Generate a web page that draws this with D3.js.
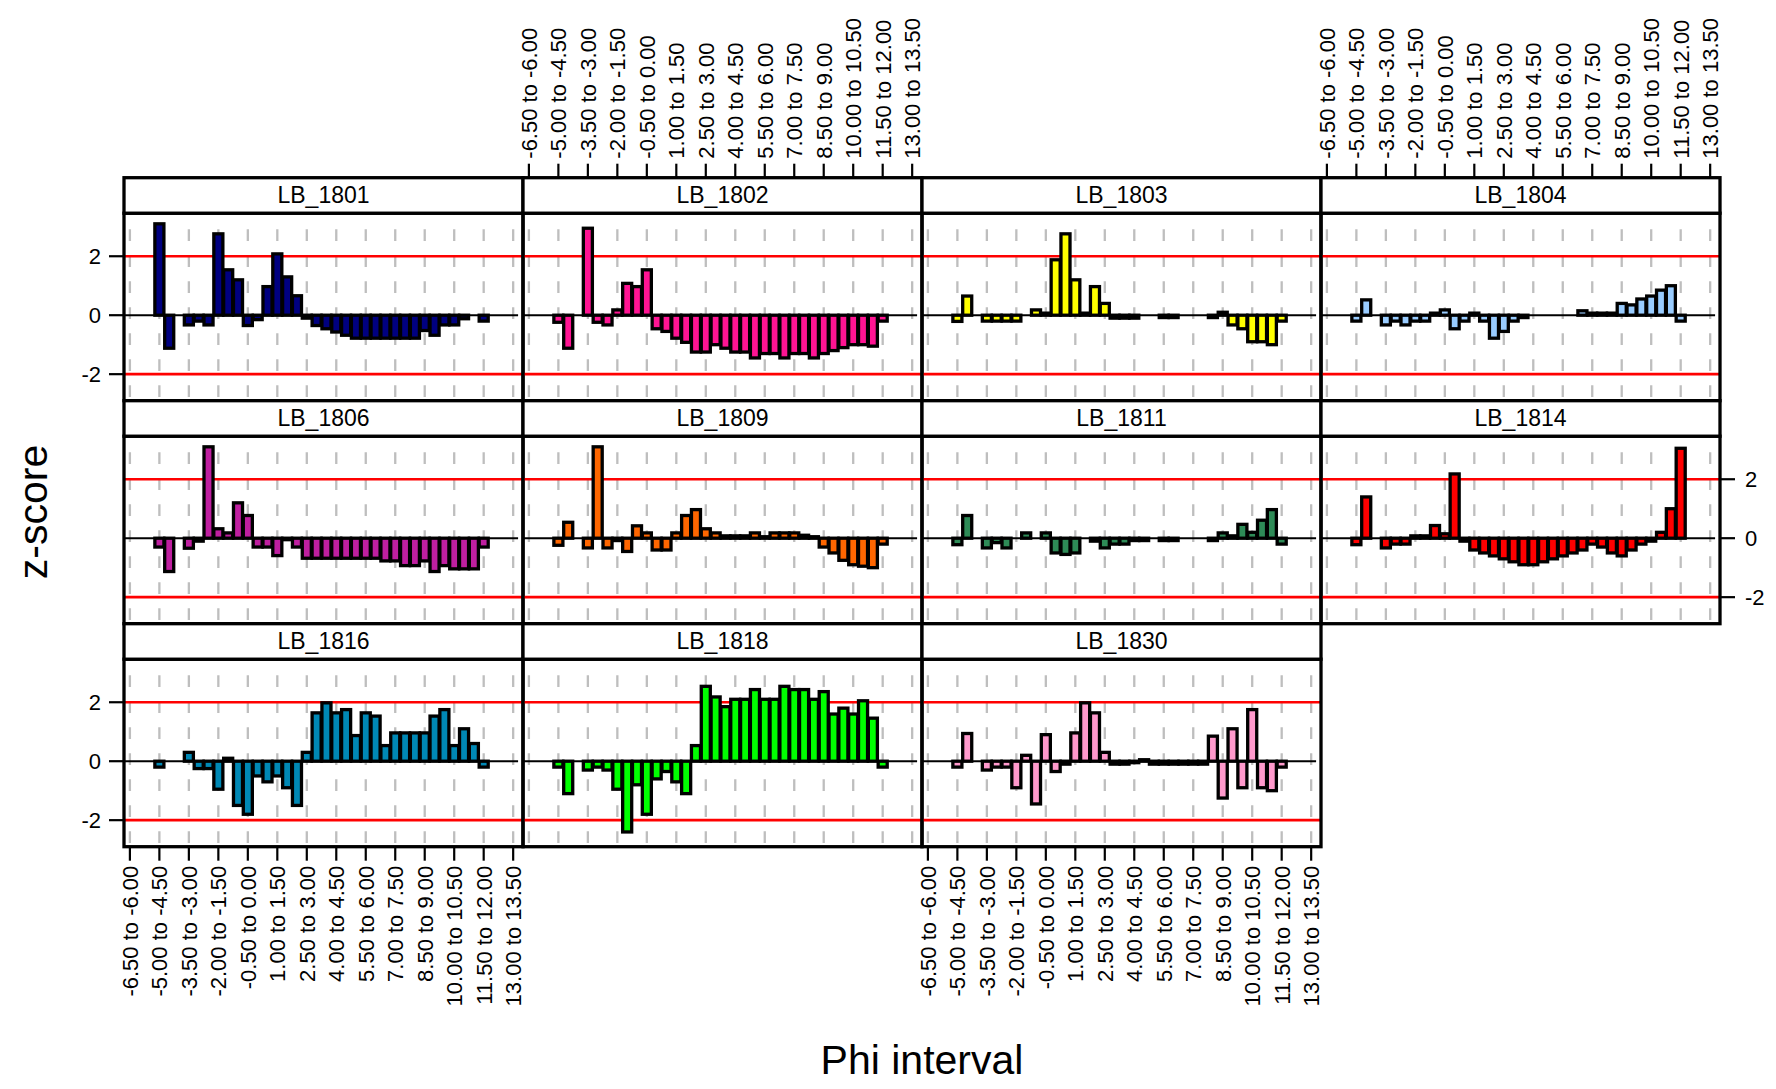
<!DOCTYPE html>
<html><head><meta charset="utf-8">
<script src="https://cdn.jsdelivr.net/npm/d3@7"></script>
<style>body{margin:0;background:#fff}svg{display:block}</style>
</head><body>
<svg id="chart" width="1776" height="1089"></svg>
<script>
const categories = ["-6.50 to -6.00","-6.00 to -5.50","-5.50 to -5.00","-5.00 to -4.50","-4.50 to -4.00","-4.00 to -3.50","-3.50 to -3.00","-3.00 to -2.50","-2.50 to -2.00","-2.00 to -1.50","-1.50 to -1.00","-1.00 to -0.50","-0.50 to 0.00","0.00 to 0.50","0.50 to 1.00","1.00 to 1.50","1.50 to 2.00","2.00 to 2.50","2.50 to 3.00","3.00 to 3.50","3.50 to 4.00","4.00 to 4.50","4.50 to 5.00","5.00 to 5.50","5.50 to 6.00","6.00 to 6.50","6.50 to 7.00","7.00 to 7.50","7.50 to 8.00","8.00 to 8.50","8.50 to 9.00","9.00 to 9.50","9.50 to 10.00","10.00 to 10.50","10.50 to 11.00","11.00 to 11.50","11.50 to 12.00","12.00 to 12.50","12.50 to 13.00","13.00 to 13.50"];
const tickLabels = ["-6.50 to -6.00","-5.00 to -4.50","-3.50 to -3.00","-2.00 to -1.50","-0.50 to 0.00","1.00 to 1.50","2.50 to 3.00","4.00 to 4.50","5.50 to 6.00","7.00 to 7.50","8.50 to 9.00","10.00 to 10.50","11.50 to 12.00","13.00 to 13.50"];
const yTicks = [-2, 0, 2];
const refLines = [-2, 2];

const panelNames = ["LB_1801","LB_1802","LB_1803","LB_1804","LB_1806","LB_1809","LB_1811","LB_1814","LB_1816","LB_1818","LB_1830"];
const panelColors = ["#000080","#FF1493","#FFFF00","#99CCFF","#BF1FA0","#FF6600","#2E8B57","#FF0000","#0088B5","#00FF00","#FF99CC"];

const z1801 = [null,null,null,3.1,-1.12,null,-0.33,-0.2,-0.33,2.76,1.54,1.2,-0.35,-0.15,0.97,2.08,1.3,0.66,-0.1,-0.35,-0.46,-0.57,-0.68,-0.78,-0.78,-0.78,-0.78,-0.78,-0.78,-0.78,-0.52,-0.68,-0.33,-0.33,-0.12,null,-0.2,null,null,null];
const z1802 = [null,null,null,-0.24,-1.12,null,2.95,-0.24,-0.33,0.18,1.08,0.97,1.54,-0.46,-0.55,-0.78,-0.92,-1.25,-1.25,-1.0,-1.12,-1.25,-1.25,-1.45,-1.3,-1.3,-1.45,-1.3,-1.3,-1.45,-1.3,-1.2,-1.1,-1.0,-1.0,-1.05,-0.2,null,null,null];
const z1803 = [null,null,null,-0.21,0.65,null,-0.2,-0.2,-0.2,-0.2,null,0.18,0.07,1.88,2.76,1.2,0.07,0.97,0.4,-0.1,-0.1,-0.1,null,null,-0.08,-0.08,null,null,null,-0.08,0.1,-0.33,-0.46,-0.9,-0.9,-1.0,-0.2,null,null,null];
const z1804 = [null,null,null,-0.2,0.52,null,-0.33,-0.2,-0.33,-0.2,-0.2,0.07,0.18,-0.46,-0.2,0.07,-0.2,-0.78,-0.55,-0.2,-0.08,null,null,null,null,null,0.15,0.07,0.07,0.07,0.4,0.35,0.55,0.65,0.85,1.0,-0.2,null,null,null];
const z1806 = [null,null,null,-0.3,-1.13,null,-0.34,-0.1,3.1,0.32,0.18,1.2,0.77,-0.3,-0.3,-0.59,-0.05,-0.3,-0.68,-0.68,-0.68,-0.68,-0.68,-0.68,-0.68,-0.68,-0.77,-0.77,-0.93,-0.93,-0.77,-1.13,-0.93,-1.04,-1.04,-1.04,-0.3,null,null,null];
const z1809 = [null,null,null,-0.24,0.54,null,-0.33,3.1,-0.33,-0.08,-0.45,0.42,0.18,-0.4,-0.4,0.18,0.77,0.97,0.32,0.18,0.08,0.08,0.08,0.18,0.05,0.18,0.18,0.18,0.1,0.05,-0.3,-0.5,-0.75,-0.9,-0.95,-1.0,-0.2,null,null,null];
const z1811 = [null,null,null,-0.22,0.77,null,-0.33,-0.15,-0.33,null,0.18,null,0.18,-0.5,-0.55,-0.5,null,-0.1,-0.33,-0.2,-0.2,-0.08,-0.08,null,-0.08,-0.08,null,null,null,-0.08,0.18,0.08,0.47,0.2,0.61,0.97,-0.2,null,null,null];
const z1814 = [null,null,null,-0.22,1.4,null,-0.33,-0.2,-0.2,0.08,0.08,0.43,0.15,2.18,-0.1,-0.4,-0.5,-0.6,-0.7,-0.8,-0.9,-0.9,-0.8,-0.7,-0.6,-0.5,-0.4,-0.2,-0.3,-0.5,-0.6,-0.4,-0.2,-0.1,0.2,1.0,3.05,null,null,null];
const z1816 = [null,null,null,-0.2,null,null,0.3,-0.25,-0.25,-0.95,0.1,-1.5,-1.8,-0.5,-0.7,-0.5,-0.9,-1.5,0.3,1.64,1.98,1.64,1.75,0.87,1.64,1.53,0.53,0.96,0.96,0.96,0.96,1.53,1.75,0.53,1.1,0.6,-0.2,null,null,null];
const z1818 = [null,null,null,-0.2,-1.1,null,-0.3,-0.2,-0.3,-0.95,-2.4,-0.8,-1.8,-0.6,-0.35,-0.7,-1.1,0.53,2.54,2.18,1.85,2.1,2.1,2.43,2.1,2.1,2.54,2.43,2.43,2.1,2.36,1.6,1.8,1.6,2.05,1.46,-0.2,null,null,null];
const z1830 = [null,null,null,-0.2,0.94,null,-0.3,-0.2,-0.2,-0.9,0.2,-1.45,0.9,-0.35,-0.1,0.96,1.98,1.64,0.3,-0.1,-0.1,-0.05,0.05,-0.1,-0.1,-0.1,-0.1,-0.1,-0.1,0.85,-1.25,1.1,-0.9,1.75,-0.9,-1.0,-0.2,null,null,null];
const panelValues = [z1801,z1802,z1803,z1804,z1806,z1809,z1811,z1814,z1816,z1818,z1830];

// ---- layout ----
const W = 1776, H = 1089;
const nCols = 4;
const left0 = 124, panelW = 399;
const top0 = 177.7, rowPitch = 223, stripH = 35.5, panelH = 187.5;
const FONT = "'Liberation Sans', Arial, sans-serif";
const svg = d3.select("#chart");
svg.append("rect").attr("width", W).attr("height", H).attr("fill", "#fff");

const xLin = d3.scaleLinear().domain([0.4, 41.0]).range([0, panelW]);
const x = d3.scalePoint().domain(categories).range([xLin(1), xLin(categories.length)]);
const step = x.step();
const barW = step * 0.92;
const y = d3.scaleLinear().domain([-2.9, 3.46]).range([panelH, 0]);

const BORDER = 3.3;

panelNames.forEach((name, i) => {
  const col = i % nCols, row = Math.floor(i / nCols);
  const px = left0 + col * panelW;
  const stripTop = top0 + row * rowPitch;
  const py = stripTop + stripH;
  const g = svg.append("g").attr("transform", `translate(${px},${py})`);

  g.selectAll("line.grid").data(tickLabels).join("line")
    .attr("x1", d => x(d)).attr("x2", d => x(d))
    .attr("y1", panelH).attr("y2", 0)
    .attr("stroke", "#BEBEBE").attr("stroke-width", 2.3)
    .attr("stroke-dasharray", "11.7,14.3").attr("stroke-dashoffset", 22.3);

  g.selectAll("line.ref").data(refLines).join("line")
    .attr("x1", 0).attr("x2", panelW)
    .attr("y1", d => y(d)).attr("y2", d => y(d))
    .attr("stroke", "#FF0000").attr("stroke-width", 2.7);

  g.append("line")
    .attr("x1", x(categories[0]) - step / 2).attr("x2", x(categories[categories.length - 1]) + step / 2)
    .attr("y1", y(0)).attr("y2", y(0))
    .attr("stroke", "#000").attr("stroke-width", 2);

  const vals = panelValues[i];
  const data = categories.map((c, k) => ({c, v: vals[k]})).filter(d => d.v !== null);
  g.selectAll("rect.bar").data(data).join("rect")
    .attr("x", d => x(d.c) - barW / 2)
    .attr("width", barW)
    .attr("y", d => Math.min(y(0), y(d.v)))
    .attr("height", d => Math.abs(y(d.v) - y(0)))
    .attr("fill", panelColors[i])
    .attr("stroke", "#000").attr("stroke-width", BORDER);

  g.append("rect").attr("x", 0).attr("y", 0).attr("width", panelW).attr("height", panelH)
    .attr("fill", "none").attr("stroke", "#000").attr("stroke-width", BORDER);

  const sg = svg.append("g").attr("transform", `translate(${px},${stripTop})`);
  sg.append("rect").attr("width", panelW).attr("height", stripH)
    .attr("fill", "#fff").attr("stroke", "#000").attr("stroke-width", BORDER);
  sg.append("text").attr("x", panelW / 2).attr("y", stripH / 2 + 8)
    .attr("text-anchor", "middle").attr("font-family", FONT).attr("font-size", 23)
    .attr("fill", "#000").text(name);

  const nRows = Math.ceil(panelNames.length / nCols);
  if (col === 0 && row % 2 === 0) {
    const ag = svg.append("g").attr("transform", `translate(${px},${py})`);
    ag.selectAll("line").data(yTicks).join("line")
      .attr("x1", -15).attr("x2", 0).attr("y1", d => y(d)).attr("y2", d => y(d))
      .attr("stroke", "#000").attr("stroke-width", 2.2);
    ag.selectAll("text").data(yTicks).join("text")
      .attr("x", -23).attr("y", d => y(d) + 8).attr("text-anchor", "end")
      .attr("font-family", FONT).attr("font-size", 22).text(d => d);
  }
  if (col === nCols - 1 && row % 2 === 1) {
    const ag = svg.append("g").attr("transform", `translate(${px + panelW},${py})`);
    ag.selectAll("line").data(yTicks).join("line")
      .attr("x1", 0).attr("x2", 15).attr("y1", d => y(d)).attr("y2", d => y(d))
      .attr("stroke", "#000").attr("stroke-width", 2.2);
    ag.selectAll("text").data(yTicks).join("text")
      .attr("x", 25).attr("y", d => y(d) + 8).attr("text-anchor", "start")
      .attr("font-family", FONT).attr("font-size", 22).text(d => d);
  }
  if (row === 0 && col % 2 === 1) {
    const ag = svg.append("g").attr("transform", `translate(${px},${stripTop})`);
    ag.selectAll("line").data(tickLabels).join("line")
      .attr("x1", d => x(d)).attr("x2", d => x(d)).attr("y1", 0).attr("y2", -14)
      .attr("stroke", "#000").attr("stroke-width", 2.2);
    ag.selectAll("text").data(tickLabels).join("text")
      .attr("transform", d => `translate(${x(d) + 8},-19) rotate(-90)`)
      .attr("text-anchor", "start")
      .attr("font-family", FONT).attr("font-size", 22).text(d => d);
  }
  if (row === nRows - 1 && col % 2 === 0) {
    const ag = svg.append("g").attr("transform", `translate(${px},${py + panelH})`);
    ag.selectAll("line").data(tickLabels).join("line")
      .attr("x1", d => x(d)).attr("x2", d => x(d)).attr("y1", 0).attr("y2", 14)
      .attr("stroke", "#000").attr("stroke-width", 2.2);
    ag.selectAll("text").data(tickLabels).join("text")
      .attr("transform", d => `translate(${x(d) + 8},19) rotate(-90)`)
      .attr("text-anchor", "end")
      .attr("font-family", FONT).attr("font-size", 22).text(d => d);
  }
});

svg.append("text").attr("transform", "translate(47,512) rotate(-90)")
  .attr("text-anchor", "middle").attr("font-family", FONT).attr("font-size", 41).text("z-score");
svg.append("text").attr("x", left0 + 2 * panelW).attr("y", 1074)
  .attr("text-anchor", "middle").attr("font-family", FONT).attr("font-size", 41).text("Phi interval");
</script>
</body></html>
